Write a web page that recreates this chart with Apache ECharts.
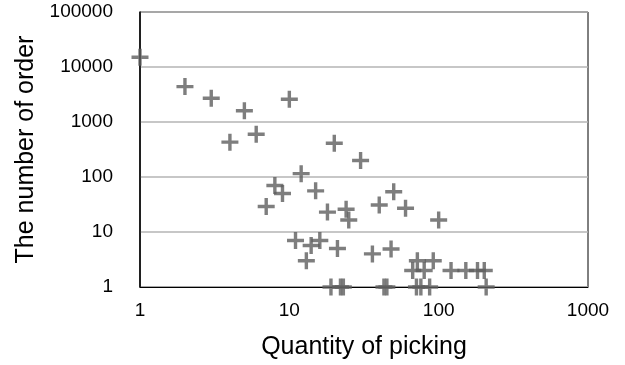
<!DOCTYPE html>
<html>
<head>
<meta charset="utf-8">
<script src="https://cdn.jsdelivr.net/npm/echarts@6/dist/echarts.min.js"></script>
<style>
  html, body { margin: 0; padding: 0; background: #fff; }
  #chart { width: 625px; height: 365px; }
</style>
</head>
<body>
<div id="chart"></div>
<script>
// quantity of picking (x) and number of orders (y)
const quantity = [1, 2, 3, 4, 5, 6, 7, 8, 9, 10,
  11, 12, 13, 14, 15, 16, 18, 19, 20, 21,
  22, 23, 24, 25, 30, 36, 40, 43, 45, 48,
  50, 60, 67, 71, 72, 76, 80, 87, 92, 100,
  121, 152, 182, 202, 208]
const orders = [15000, 4400, 2700, 430, 1600, 600, 29, 70, 50, 2600,
  7, 115, 3, 5.7, 56, 7, 23, 1, 410, 5,
  1, 1, 26, 16.5, 200, 4, 31, 1, 1, 4.9,
  54, 27, 2, 1, 3, 1, 2, 1, 3, 16.5,
  2, 2, 2, 2, 1]
const xTicks = [1, 10, 100, 1000]
const yTicks = [1, 10, 100, 1000, 10000, 100000]

const points = quantity.map((q, i) => [q, orders[i]])

const plus = 'path://M0,6.8L6.8,6.8L6.8,0L10.2,0L10.2,6.8L17,6.8L17,10.2L10.2,10.2L10.2,17L6.8,17L6.8,10.2L0,10.2Z'
const font = 'Liberation Sans'
const plain = v => String(Math.round(v))

const chart = echarts.init(document.getElementById('chart'))
chart.setOption({
  animation: false,
  textStyle: { fontFamily: font },
  grid: {
    left: 140,
    right: 37,
    top: 12,
    bottom: 78,
    show: true,
    borderColor: '#000',
    borderWidth: 1
  },
  xAxis: {
    type: 'log',
    logBase: 10,
    min: xTicks[0],
    max: xTicks[xTicks.length - 1],
    name: 'Quantity of picking',
    nameLocation: 'middle',
    nameGap: 48,
    nameTextStyle: { color: '#000', fontSize: 25, fontFamily: font },
    axisLine: { lineStyle: { color: '#000', width: 1 } },
    axisTick: { show: false },
    splitLine: { show: false },
    axisLabel: { color: '#000', fontSize: 19, margin: 14, fontFamily: font, formatter: plain }
  },
  yAxis: {
    type: 'log',
    logBase: 10,
    min: yTicks[0],
    max: yTicks[yTicks.length - 1],
    name: 'The number of order',
    nameLocation: 'middle',
    nameGap: 101,
    nameTextStyle: { color: '#000', fontSize: 25, fontFamily: font },
    axisLine: { show: true, lineStyle: { color: '#000', width: 1.5 } },
    axisTick: { show: false },
    splitLine: { lineStyle: { color: '#b4b4b4', width: 1.5 } },
    axisLabel: { color: '#000', fontSize: 19, margin: 27, fontFamily: font, formatter: plain, padding: [6, 0, 0, 0] }
  },
  series: [
    {
      type: 'scatter',
      symbol: plus,
      symbolSize: 17,
      clip: false,
      itemStyle: { color: '#5e5e5e' },
      data: points
    }
  ]
})
</script>
</body>
</html>
